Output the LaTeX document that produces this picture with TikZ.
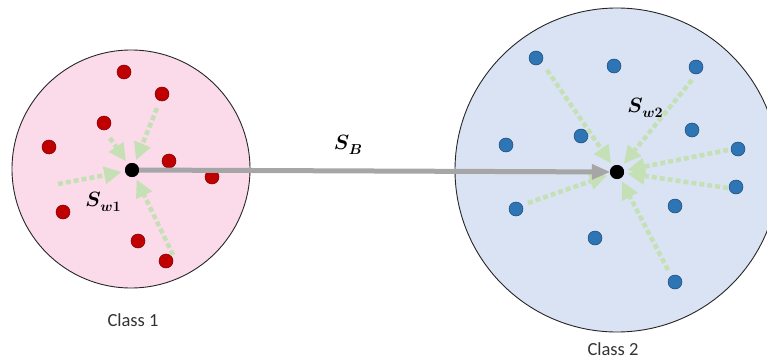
\documentclass[tikz,border=0pt]{standalone}
\usepackage{amsmath}
\usepackage{fontspec}
\newfontfamily\labelfont{Carlito}
\usetikzlibrary{arrows.meta}
\definecolor{pinkfill}{RGB}{251,218,234}
\definecolor{bluefill}{RGB}{218,227,243}
\definecolor{reddot}{RGB}{192,0,0}
\definecolor{reddraw}{RGB}{120,0,0}
\definecolor{bluedot}{RGB}{46,117,182}
\definecolor{bluedraw}{RGB}{30,70,110}
\definecolor{greenarr}{RGB}{197,224,180}
\definecolor{greyarr}{RGB}{166,166,166}
\newcommand{\scatterlbl}[1]{$\boldsymbol{S}$\kern-0.5pt\raisebox{-4.5pt}{\fontsize{14.5}{16}\selectfont$\boldsymbol{#1}$}}
\begin{document}
\begin{tikzpicture}[x=1pt,y=-1pt,
  classcircle/.style={draw=black!85,line width=0.9pt},
  rdot/.style={circle,fill=reddot,draw=reddraw,line width=0.5pt,minimum size=14pt,inner sep=0pt},
  bdot/.style={circle,fill=bluedot,draw=bluedraw,line width=0.5pt,minimum size=14pt,inner sep=0pt},
  cdot/.style={circle,fill=black,minimum size=14pt,inner sep=0pt},
  scatterarr/.style={draw=greenarr,line width=4.5pt,dash pattern=on 5pt off 3pt,
    -{Triangle[length=17pt,width=18pt,fill=greenarr,line width=0pt]},shorten >=11pt},
  betweenarr/.style={draw=greyarr,line width=5pt,-{Triangle[length=18pt,width=16pt,fill=greyarr,line width=0pt]}},
  slabel/.style={font=\fontsize{21}{24}\selectfont},
  classlabel/.style={font=\labelfont\fontsize{18.5}{22}\selectfont,text=black!80}
]
\clip (0,0) rectangle (767,361);
\useasboundingbox (0,0) rectangle (767,361);
% class regions
\node[classcircle,circle,fill=pinkfill,minimum size=238pt,inner sep=0pt] (k1) at (131,169) {};
\node[classcircle,circle,fill=bluefill,minimum size=324pt,inner sep=0pt] (k2) at (617,170) {};
% red points
\node[rdot] (r1) at (124,72) {};
\node[rdot] (r2) at (162,94) {};
\node[rdot] (r3) at (104,123) {};
\node[rdot] (r4) at (49,147) {};
\node[rdot] (r5) at (169,161) {};
\node[rdot] (r6) at (212,177) {};
\node[rdot] (r7) at (63,212) {};
\node[rdot] (r8) at (138,241) {};
\node[rdot] (r9) at (166,261) {};
% blue points
\node[bdot] (b1) at (536,58) {};
\node[bdot] (b2) at (614,66) {};
\node[bdot] (b3) at (696,67) {};
\node[bdot] (b4) at (506,145) {};
\node[bdot] (b5) at (581,136) {};
\node[bdot] (b6) at (692,130) {};
\node[bdot] (b7) at (738,149) {};
\node[bdot] (b8) at (736,187) {};
\node[bdot] (b9) at (516,209) {};
\node[bdot] (b10) at (675,206) {};
\node[bdot] (b11) at (595,238) {};
\node[bdot] (b12) at (675,282) {};
% centroids
\node[cdot] (c1) at (132,170) {};
\node[cdot] (c2) at (617,172) {};
% arrow starts
\coordinate (s1) at (110,138);
\coordinate (s2) at (157,108);
\coordinate (s3) at (58,184);
\coordinate (s4) at (173,255);
\coordinate (t1) at (547,70);
\coordinate (t2) at (692,80);
\coordinate (t3) at (728,150);
\coordinate (t4) at (728,188);
\coordinate (t5) at (528,203);
\coordinate (t6) at (668,270);
% within-class scatter arrows
\draw[scatterarr] (s1) -- (c1.center);
\draw[scatterarr] (s2) -- (c1.center);
\draw[scatterarr] (s3) -- (c1.center);
\draw[scatterarr] (s4) -- (c1.center);
\draw[scatterarr] (t1) -- (c2.center);
\draw[scatterarr] (t2) -- (c2.center);
\draw[scatterarr] (t3) -- (c2.center);
\draw[scatterarr] (t4) -- (c2.center);
\draw[scatterarr] (t5) -- (c2.center);
\draw[scatterarr] (t6) -- (c2.center);
% between-class arrow
\draw[betweenarr] (c1) -- (c2);
\node[cdot] (c1b) at (c1) {};
\node[cdot] (c2b) at (c2) {};
% labels
\node[slabel] (lb) at (348,145) {\scatterlbl{B}};
\node[slabel] (lw1) at (103,202) {\scatterlbl{w1}};
\node[slabel] (lw2) at (645,108) {\scatterlbl{w2}};
\node[classlabel] (n1) at (133,320) {Class 1};
\node[classlabel] (n2) at (613,349) {Class 2};
\end{tikzpicture}
\end{document}
